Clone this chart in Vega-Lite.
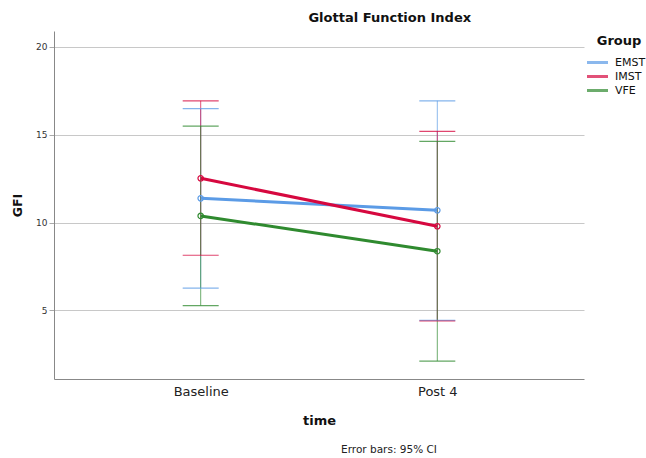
{
  "$schema": "https://vega.github.io/schema/vega-lite/v6.json",
  "padding": {"left": 11, "top": 12, "right": 0, "bottom": 0},
  "background": "white",
  "title": {"text": "Glottal Function Index", "fontSize": 13, "fontWeight": "bold", "font": "DejaVu Sans", "color": "#111", "anchor": "middle", "dx": 61, "offset": 6},
  "data": {"values": [
    {"group": "EMST", "time": "Baseline", "mean": 11.38, "lo": 6.27, "hi": 16.48},
    {"group": "IMST", "time": "Baseline", "mean": 12.52, "lo": 8.14, "hi": 16.93},
    {"group": "VFE", "time": "Baseline", "mean": 10.38, "lo": 5.28, "hi": 15.49},
    {"group": "EMST", "time": "Post 4", "mean": 10.70, "lo": 4.43, "hi": 16.93},
    {"group": "IMST", "time": "Post 4", "mean": 9.79, "lo": 4.40, "hi": 15.19},
    {"group": "VFE", "time": "Post 4", "mean": 8.37, "lo": 2.12, "hi": 14.62}
  ]},
  "vconcat": [{
    "width": 530,
    "height": 348,
    "title": {"text": "Error bars: 95% CI", "orient": "bottom", "fontSize": 10.5, "fontWeight": "normal", "font": "DejaVu Sans", "color": "#222", "anchor": "middle", "dx": 70, "offset": 18},
    "encoding": {
      "x": {"field": "time", "type": "nominal", "sort": ["Baseline", "Post 4"],
            "scale": {"type": "point", "padding": 0.62},
            "axis": {"title": "time", "titleFontSize": 13, "titleFontWeight": "bold", "titleFont": "DejaVu Sans", "titlePadding": 16, "titleColor": "#111",
                     "labelAngle": 0, "labelFontSize": 13, "labelFont": "DejaVu Sans", "labelColor": "#222", "labelPadding": 6,
                     "ticks": false, "grid": false, "domainColor": "#888", "domainWidth": 1}},
      "color": {"field": "group", "type": "nominal",
                "scale": {"domain": ["EMST", "IMST", "VFE"], "range": ["#5b9be6", "#d6083f", "#2f8a2f"]},
                "legend": {"title": "Group", "orient": "none", "legendX": 538, "legendY": 4, "titleFontSize": 13, "titleFont": "DejaVu Sans", "titleFontWeight": "bold", "titleColor": "#111", "titlePadding": 9, "titleAnchor": "middle",
                           "labelFontSize": 11, "labelFont": "DejaVu Sans", "labelColor": "#111", "symbolType": "M-3,0H3", "symbolStrokeWidth": 3, "symbolSize": 49, "symbolFillColor": "transparent", "rowPadding": 1, "labelOffset": 12, "padding": 0}}
    },
    "layer": [
      {"mark": {"type": "rule", "strokeWidth": 1, "opacity": 0.7},
       "encoding": {"y": {"field": "lo", "type": "quantitative",
                          "scale": {"domain": [1.1, 20.9], "nice": false, "zero": false},
                          "axis": {"values": [5, 10, 15, 20], "title": "GFI", "titleFontSize": 12.5, "titleFontWeight": "bold", "titleFont": "DejaVu Sans", "titleColor": "#111", "titlePadding": 11,
                                   "labelFontSize": 9, "labelFont": "DejaVu Sans", "labelColor": "#333", "tickColor": "#aaa", "tickSize": 5, "domainColor": "#888",
                                   "grid": true, "gridColor": "#c8c8c8", "gridWidth": 1}},
                    "y2": {"field": "hi"}}},
      {"mark": {"type": "tick", "size": 36, "thickness": 1.2, "opacity": 0.75},
       "encoding": {"y": {"field": "lo", "type": "quantitative"}}},
      {"mark": {"type": "tick", "size": 36, "thickness": 1.2, "opacity": 0.75},
       "encoding": {"y": {"field": "hi", "type": "quantitative"}}},
      {"mark": {"type": "line", "strokeWidth": 3},
       "encoding": {"y": {"field": "mean", "type": "quantitative"}}},
      {"mark": {"type": "point", "filled": false, "size": 30, "strokeWidth": 1.2, "opacity": 1},
       "encoding": {"y": {"field": "mean", "type": "quantitative"}}}
    ]
  }],
  "config": {"view": {"stroke": null}}
}
